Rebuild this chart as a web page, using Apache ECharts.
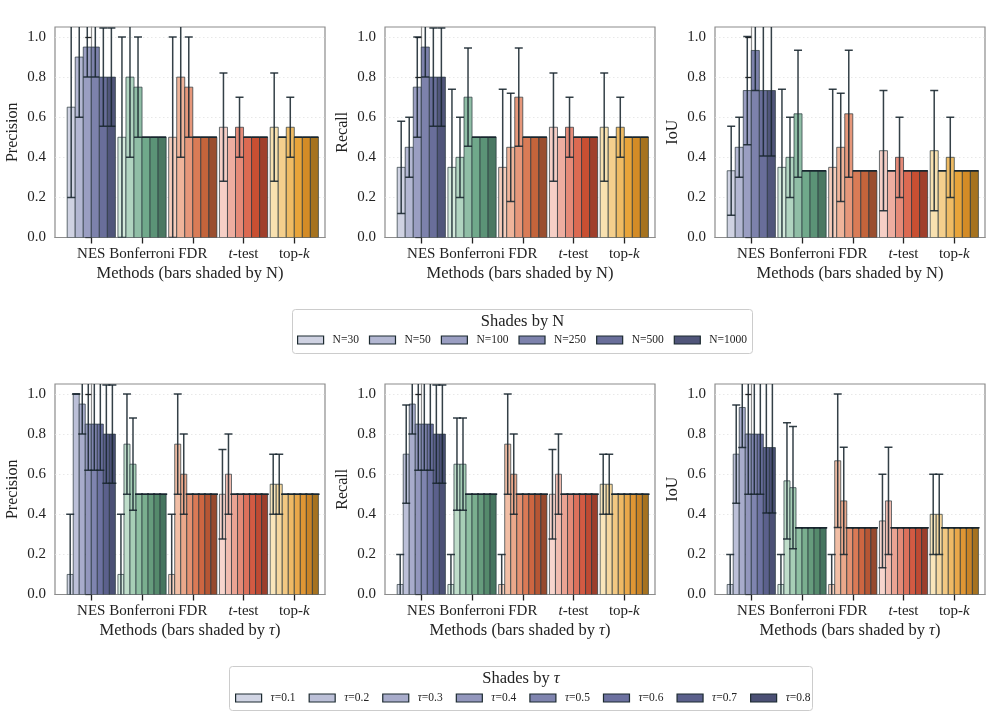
<!DOCTYPE html>
<html>
<head>
<meta charset="utf-8">
<script src="https://cdn.jsdelivr.net/npm/echarts@6/dist/echarts.min.js"></script>
<style>html,body{margin:0;padding:0;background:#fff}#c{width:996px;height:718px}</style>
</head>
<body>
<div id="c"></div>
<script>
// ---------------- data ----------------
const methods = ['NES', 'Bonferroni', 'FDR', 't-test', 'top-k'];
const nLabels = ['N=30', 'N=50', 'N=100', 'N=250', 'N=500', 'N=1000'];
const tauLabels = ['τ=0.1', 'τ=0.2', 'τ=0.3', 'τ=0.4', 'τ=0.5', 'τ=0.6', 'τ=0.7', 'τ=0.8'];
const yTicks = [0, 0.2, 0.4, 0.6, 0.8, 1.0];
const xTicks = [0, 1, 2, 3, 4];

// rows: methods, columns: N shades
const precN_mean = [
  [0.65, 0.90, 0.95, 0.95, 0.80, 0.80],
  [0.50, 0.80, 0.75, 0.50, 0.50, 0.50],
  [0.50, 0.80, 0.75, 0.50, 0.50, 0.50],
  [0.55, 0.50, 0.55, 0.50, 0.50, 0.50],
  [0.55, 0.50, 0.55, 0.50, 0.50, 0.50]
];
const precN_err = [
  [0.45, 0.30, 0.15, 0.15, 0.245, 0.245],
  [0.50, 0.40, 0.25, 0, 0, 0],
  [0.50, 0.40, 0.25, 0, 0, 0],
  [0.27, 0, 0.15, 0, 0, 0],
  [0.27, 0, 0.15, 0, 0, 0]
];
const recN_mean = [
  [0.35, 0.45, 0.75, 0.95, 0.80, 0.80],
  [0.35, 0.40, 0.70, 0.50, 0.50, 0.50],
  [0.35, 0.45, 0.70, 0.50, 0.50, 0.50],
  [0.55, 0.50, 0.55, 0.50, 0.50, 0.50],
  [0.55, 0.50, 0.55, 0.50, 0.50, 0.50]
];
const recN_err = [
  [0.23, 0.15, 0.25, 0.15, 0.245, 0.245],
  [0.39, 0.20, 0.245, 0, 0, 0],
  [0.39, 0.27, 0.245, 0, 0, 0],
  [0.27, 0, 0.15, 0, 0, 0],
  [0.27, 0, 0.15, 0, 0, 0]
];
const iouN_mean = [
  [0.333, 0.45, 0.733, 0.933, 0.733, 0.733],
  [0.35, 0.40, 0.617, 0.333, 0.333, 0.333],
  [0.35, 0.45, 0.617, 0.333, 0.333, 0.333],
  [0.433, 0.333, 0.40, 0.333, 0.333, 0.333],
  [0.433, 0.333, 0.40, 0.333, 0.333, 0.333]
];
const iouN_err = [
  [0.222, 0.15, 0.27, 0.20, 0.327, 0.327],
  [0.39, 0.20, 0.317, 0, 0, 0],
  [0.39, 0.27, 0.317, 0, 0, 0],
  [0.30, 0, 0.20, 0, 0, 0],
  [0.30, 0, 0.20, 0, 0, 0]
];
// rows: methods, columns: tau shades
const precT_mean = [
  [0.10, 1.00, 0.95, 0.85, 0.85, 0.85, 0.80, 0.80],
  [0.10, 0.75, 0.65, 0.50, 0.50, 0.50, 0.50, 0.50],
  [0.10, 0.75, 0.60, 0.50, 0.50, 0.50, 0.50, 0.50],
  [0.50, 0.60, 0.50, 0.50, 0.50, 0.50, 0.50, 0.50],
  [0.55, 0.55, 0.50, 0.50, 0.50, 0.50, 0.50, 0.50]
];
const precT_err = [
  [0.30, 0, 0.15, 0.23, 0.23, 0.23, 0.245, 0.245],
  [0.30, 0.25, 0.23, 0, 0, 0, 0, 0],
  [0.30, 0.25, 0.20, 0, 0, 0, 0, 0],
  [0.223, 0.20, 0, 0, 0, 0, 0, 0],
  [0.15, 0.15, 0, 0, 0, 0, 0, 0]
];
const recT_mean = [
  [0.05, 0.70, 0.95, 0.85, 0.85, 0.85, 0.80, 0.80],
  [0.05, 0.65, 0.65, 0.50, 0.50, 0.50, 0.50, 0.50],
  [0.05, 0.75, 0.60, 0.50, 0.50, 0.50, 0.50, 0.50],
  [0.50, 0.60, 0.50, 0.50, 0.50, 0.50, 0.50, 0.50],
  [0.55, 0.55, 0.50, 0.50, 0.50, 0.50, 0.50, 0.50]
];
const recT_err = [
  [0.15, 0.245, 0.15, 0.23, 0.23, 0.23, 0.245, 0.245],
  [0.15, 0.23, 0.23, 0, 0, 0, 0, 0],
  [0.15, 0.25, 0.20, 0, 0, 0, 0, 0],
  [0.223, 0.20, 0, 0, 0, 0, 0, 0],
  [0.15, 0.15, 0, 0, 0, 0, 0, 0]
];
const iouT_mean = [
  [0.05, 0.70, 0.933, 0.80, 0.80, 0.80, 0.733, 0.733],
  [0.05, 0.567, 0.533, 0.333, 0.333, 0.333, 0.333, 0.333],
  [0.05, 0.667, 0.467, 0.333, 0.333, 0.333, 0.333, 0.333],
  [0.367, 0.467, 0.333, 0.333, 0.333, 0.333, 0.333, 0.333],
  [0.40, 0.40, 0.333, 0.333, 0.333, 0.333, 0.333, 0.333]
];
const iouT_err = [
  [0.15, 0.245, 0.20, 0.30, 0.30, 0.30, 0.327, 0.327],
  [0.15, 0.29, 0.305, 0, 0, 0, 0, 0],
  [0.15, 0.333, 0.267, 0, 0, 0, 0, 0],
  [0.233, 0.267, 0, 0, 0, 0, 0, 0],
  [0.20, 0.20, 0, 0, 0, 0, 0, 0]
];

// ---------------- palettes ----------------
const pal6 = [
  ['#cfd2e2', '#b3b7d2', '#9a9ec2', '#7d82ac', '#696e9a', '#50557a'],
  ['#d4eadc', '#b0d4c0', '#90bea6', '#70a98b', '#5b9377', '#4a7862'],
  ['#f6cdbb', '#efb49a', '#e6977a', '#d97b56', '#c3643b', '#9a4e2f'],
  ['#f6cfc6', '#eeada0', '#e58a78', '#dc6a52', '#c84f32', '#a03f2c'],
  ['#f8e1b0', '#f4cf8d', '#efbb64', '#e8a43a', '#d38b26', '#a6731f']
];
const pal8 = [
  ['#d1d5e4', '#bcc0d8', '#a8accb', '#9397bd', '#7f84af', '#6c71a0', '#5b608c', '#4b5075'],
  ['#d7ebdf', '#bfddca', '#a7cfb6', '#8fc0a2', '#7aaf8f', '#669c7d', '#558a6c', '#46755f'],
  ['#f7d3c2', '#f1bea5', '#eba88b', '#e49171', '#da7a56', '#cd6641', '#b65634', '#96492d'],
  ['#f7d5cd', '#f1bcb0', '#eaa393', '#e38a77', '#dc715c', '#d25a43', '#be4a33', '#9b3e2c'],
  ['#f9e5ba', '#f6d79f', '#f2c882', '#eeb965', '#e9a84a', '#e09634', '#ca8326', '#a6721f']
];

const FONT = 'Liberation Serif';
const TXT = '#222222';

const panels = [
  {mean: precN_mean, err: precN_err, yname: 'Precision', row: 0, col: 0},
  {mean: recN_mean, err: recN_err, yname: 'Recall', row: 0, col: 1},
  {mean: iouN_mean, err: iouN_err, yname: 'IoU', row: 0, col: 2},
  {mean: precT_mean, err: precT_err, yname: 'Precision', row: 1, col: 0},
  {mean: recT_mean, err: recT_err, yname: 'Recall', row: 1, col: 1},
  {mean: iouT_mean, err: iouT_err, yname: 'IoU', row: 1, col: 2}
];

const gridLeft = [55, 385, 715];
const gridTop = [27, 384];
const grids = [], xAxes = [], yAxes = [], series = [];

function methodLabel(v) {
  const m = methods[v];
  if (m === 't-test') return '{i|t}-test';
  if (m === 'top-k') return 'top-{i|k}';
  return m;
}

panels.forEach((p, pi) => {
  grids.push({
    left: gridLeft[p.col], top: gridTop[p.row], width: 270, height: 210.5,
    show: true, borderColor: '#8c8c8c', borderWidth: 1.2, backgroundColor: 'transparent'
  });
  xAxes.push({
    type: 'value', gridIndex: pi, min: -0.715, max: 4.605,
    axisLine: {show: true, onZero: false, lineStyle: {color: '#8c8c8c', width: 1.2}},
    axisTick: {show: true, customValues: xTicks, length: 6, lineStyle: {color: TXT, width: 1.3}},
    axisLabel: {
      customValues: xTicks, formatter: methodLabel, margin: 9,
      fontFamily: FONT, fontSize: 15, color: TXT,
      rich: {i: {fontStyle: 'italic', fontFamily: FONT, fontSize: 15, color: TXT}}
    },
    splitLine: {show: false},
    name: p.row === 0 ? 'Methods (bars shaded by N)' : 'Methods (bars shaded by {i|τ})',
    nameLocation: 'middle', nameGap: 28,
    nameTextStyle: {fontFamily: FONT, fontSize: 16.5, color: TXT,
      rich: {i: {fontStyle: 'italic', fontFamily: FONT, fontSize: 16.5, color: TXT}}}
  });
  yAxes.push({
    type: 'value', gridIndex: pi, min: 0, max: 1.05, interval: 0.2,
    axisLine: {show: true, lineStyle: {color: '#8c8c8c', width: 1.2}},
    axisTick: {show: true, customValues: yTicks, length: 6, lineStyle: {color: TXT, width: 1.3}},
    axisLabel: {customValues: yTicks, formatter: v => v.toFixed(1), margin: 9,
      fontFamily: FONT, fontSize: 15, color: TXT},
    splitLine: {show: true, lineStyle: {color: '#e2e2e2', width: 0.8, type: [1.5, 2.5]}},
    name: p.yname, nameLocation: 'middle', nameGap: 34,
    nameTextStyle: {fontFamily: FONT, fontSize: 16, color: TXT}
  });

  const n = p.mean[0].length;
  const labels = p.row === 0 ? nLabels : tauLabels;
  const pal = n === 6 ? pal6 : pal8;
  const w = 0.95 / n;
  for (let s = 0; s < n; s++) {
    const barData = methods.map((_, c) => [c, p.mean[c][s]]);
    const errData = methods.map((_, c) => [c, p.mean[c][s], p.err[c][s]]);
    series.push({
      type: 'custom', name: labels[s], xAxisIndex: pi, yAxisIndex: pi, z: 2,
      clip: true, silent: true,
      itemStyle: {color: pal[0][s]},
      data: barData,
      renderItem: (params, api) => {
        const c = api.value(0), v = api.value(1);
        const x0 = c - 0.475 + s * w;
        const a = api.coord([x0, 0]);
        const b = api.coord([x0 + w, v]);
        return {
          type: 'rect',
          shape: {x: a[0], y: b[1], width: b[0] - a[0], height: a[1] - b[1]},
          style: {fill: pal[c][s], stroke: 'rgba(38,52,58,0.7)', lineWidth: 1}
        };
      }
    });
    series.push({
      type: 'custom', name: 'err-' + pi + '-' + s, xAxisIndex: pi, yAxisIndex: pi, z: 3,
      clip: true, silent: true,
      data: errData,
      renderItem: (params, api) => {
        const c = api.value(0), m = api.value(1), e = api.value(2);
        const xc = c - 0.475 + (s + 0.5) * w;
        const t = api.coord([xc, m + e]);
        const bt = api.coord([xc, m - e]);
        const st = {stroke: 'rgba(24,38,45,0.88)', lineWidth: 1.5};
        const cap = 4;
        return {
          type: 'group', children: [
            {type: 'line', shape: {x1: t[0], y1: t[1], x2: t[0], y2: bt[1]}, style: st},
            {type: 'line', shape: {x1: t[0] - cap, y1: t[1], x2: t[0] + cap, y2: t[1]}, style: st},
            {type: 'line', shape: {x1: t[0] - cap, y1: bt[1], x2: t[0] + cap, y2: bt[1]}, style: st}
          ]
        };
      }
    });
  }
});

const legendCommon = {
  orient: 'horizontal', padding: 0, itemWidth: 26, itemHeight: 8, icon: 'rect',
  itemStyle: {borderColor: '#1c2a30', borderWidth: 1.2},
  textStyle: {fontFamily: FONT, fontSize: 11.5, color: TXT, padding: [0, 0, 0, 4],
    rich: {i: {fontStyle: 'italic', fontFamily: FONT, fontSize: 11.5, color: TXT}}},
  selectedMode: false
};

const option = {
  backgroundColor: '#ffffff',
  animation: false,
  grid: grids,
  xAxis: xAxes,
  yAxis: yAxes,
  series: series,
  legend: [
    Object.assign({}, legendCommon, {data: nLabels, left: 297, top: 334, itemGap: 10}),
    Object.assign({}, legendCommon, {data: tauLabels, left: 235, top: 692, itemGap: 13,
      formatter: name => name.replace('τ', '{i|τ}')})
  ],
  graphic: [
    {type: 'rect', z: 1, shape: {x: 292.5, y: 309.5, width: 460, height: 44, r: 3},
      style: {fill: '#fff', stroke: '#cccccc', lineWidth: 1}},
    {type: 'text', z: 2, x: 522.5, y: 322, style: {text: 'Shades by N', fontFamily: FONT, fontSize: 16.5,
      fill: TXT, align: 'center', verticalAlign: 'middle'}},
    {type: 'rect', z: 1, shape: {x: 229.5, y: 666.5, width: 583, height: 44, r: 3},
      style: {fill: '#fff', stroke: '#cccccc', lineWidth: 1}},
    {type: 'text', z: 2, x: 521, y: 679, style: {text: 'Shades by {i|τ}', fontFamily: FONT, fontSize: 16.5,
      fill: TXT, align: 'center', verticalAlign: 'middle',
      rich: {i: {fontStyle: 'italic', fontFamily: FONT, fontSize: 16.5, fill: TXT}}}}
  ]
};

const chart = echarts.init(document.getElementById('c'), null, {renderer: 'canvas'});
chart.setOption(option);
</script>
</body>
</html>
